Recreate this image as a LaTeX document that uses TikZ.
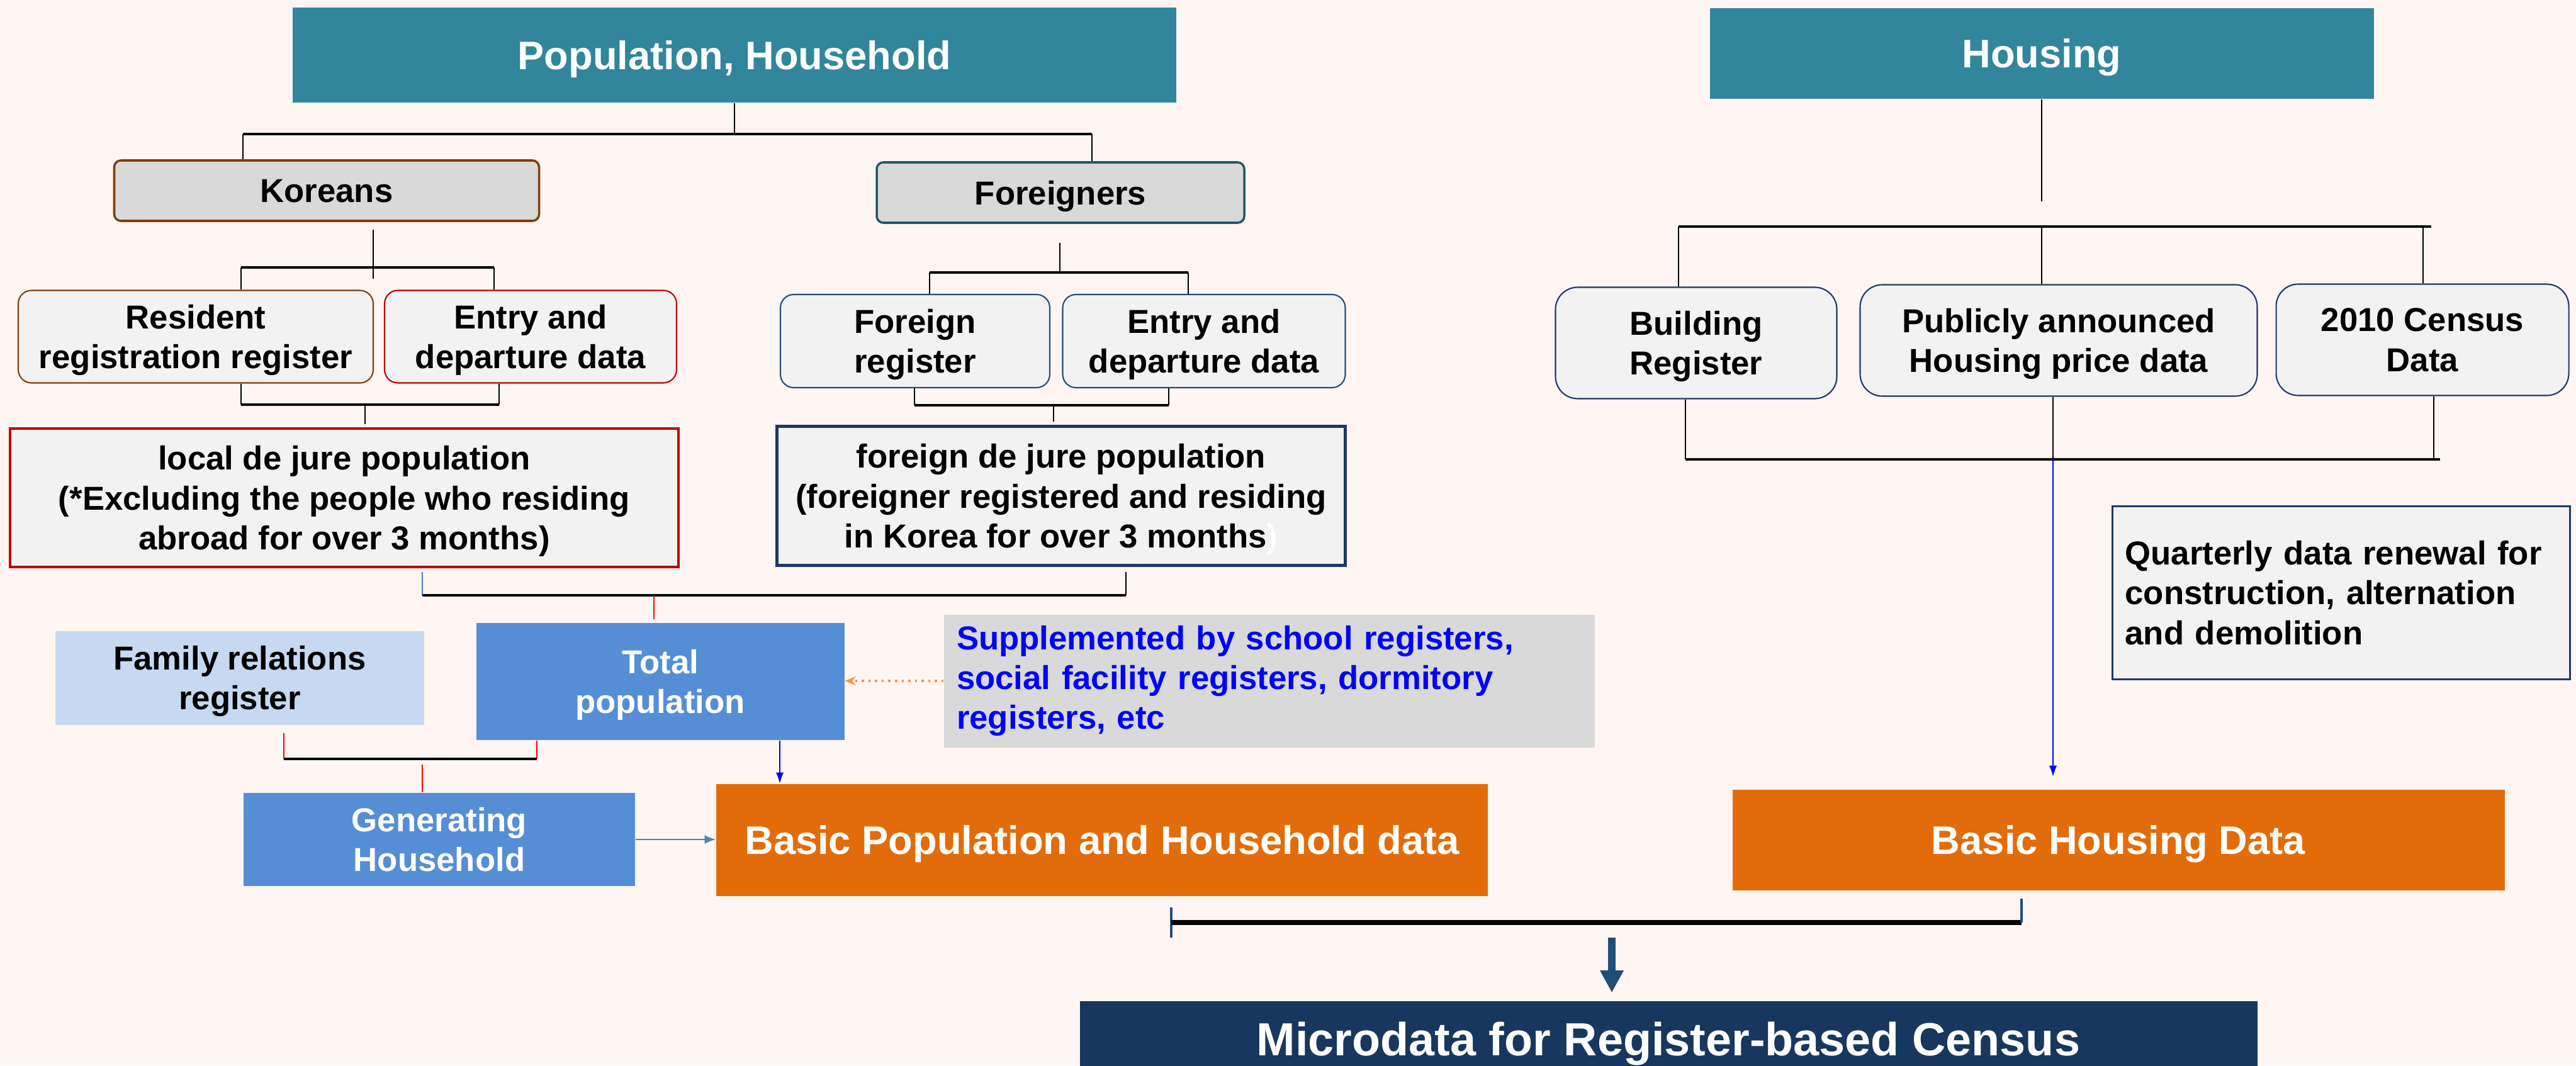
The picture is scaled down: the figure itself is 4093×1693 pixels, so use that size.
\documentclass[tikz,border=0pt]{standalone}
\usepackage{fontspec}
\setmainfont{Liberation Sans}
\usepackage{xcolor}
\usetikzlibrary{arrows.meta}
\definecolor{bgpink}{RGB}{255,245,242}
\definecolor{hdteal}{RGB}{49,134,155}
\definecolor{boxgray}{RGB}{217,217,217}
\definecolor{palegray}{RGB}{242,242,242}
\definecolor{kbrown}{RGB}{132,60,12}
\definecolor{kred}{RGB}{192,0,0}
\definecolor{fteal}{RGB}{33,89,104}
\definecolor{fblue}{RGB}{31,78,121}
\definecolor{navyline}{RGB}{31,56,100}
\definecolor{midblue}{RGB}{85,142,213}
\definecolor{paleblue}{RGB}{198,217,241}
\definecolor{dorange}{RGB}{227,108,10}
\definecolor{microblue}{RGB}{23,55,94}
\definecolor{steel}{RGB}{79,129,189}
\definecolor{lorange}{RGB}{247,150,70}
\tikzstyle{link} = [line width=0.6pt]
\tikzstyle{bar} = [line width=1.2pt]
\tikzstyle{redlink} = [red,line width=0.6pt]
\tikzstyle{bluearr} = [blue,line width=0.6pt,-{Latex[length=5pt,width=3.5pt]}]
\tikzset{>=latex,
  txt/.style={font=\bfseries\fontsize{15}{18}\selectfont, align=center, inner sep=0pt, text depth=0pt},
  note/.style={font=\bfseries\fontsize{15}{18}\selectfont, align=left, inner ysep=0pt, inner xsep=0.2cm},
  head/.style={txt, fill=hdteal, text=white, font=\bfseries\fontsize{18}{22}\selectfont},
  grp/.style={txt, fill=boxgray, rounded corners=3pt, line width=1pt},
  src/.style={txt, fill=palegray, rounded corners=6pt, line width=0.6pt},
  dejure/.style={txt, fill=palegray, line width=1.2pt},
  proc/.style={txt, fill=midblue, text=white},
  basic/.style={txt, fill=dorange, text=white, font=\bfseries\fontsize{18}{22}\selectfont}}

\begin{document}
\begin{tikzpicture}[x=0.1mm,y=-0.1mm]
\useasboundingbox (0,0) rectangle (4093,1693);
\fill[bgpink] (0,0) rectangle (4093,1693);

%headings
\node[head, minimum width=14.04cm, minimum height=1.51cm] (pop) at (1167,88) {Population, Household};
\node[head, minimum width=10.55cm, minimum height=1.44cm] (hous) at (3244,85) {Housing};

%population side
\node[grp, draw=kbrown, minimum width=6.75cm, minimum height=0.96cm] (kor) at (519,303) {Koreans};
\node[grp, draw=fteal, minimum width=5.84cm, minimum height=0.96cm] (frn) at (1685,306) {Foreigners};
\node[src, draw=kbrown, minimum width=5.64cm, minimum height=1.47cm] (resreg) at (311,535) {Resident\\registration register};
\node[src, draw=kred, minimum width=4.64cm, minimum height=1.47cm] (kentry) at (843,535) {Entry and\\departure data};
\node[src, draw=fblue, minimum width=4.28cm, minimum height=1.48cm] (freg) at (1454,542) {Foreign\\register};
\node[src, draw=fblue, minimum width=4.49cm, minimum height=1.48cm] (fentry) at (1913,542) {Entry and\\departure data};
\node[dejure, draw=kred, minimum width=10.62cm, minimum height=2.2cm] (locpop) at (547,791) {local de jure population\\(*Excluding the people who residing\\abroad for over 3 months)};
\node[dejure, draw=navyline, minimum width=9.03cm, minimum height=2.21cm] (forpop) at (1686,788) {foreign de jure population\\(foreigner registered and residing\\in Korea for over 3 months\textcolor{white}{)}};
\node[txt, fill=paleblue, minimum width=5.86cm, minimum height=1.49cm] (famreg) at (381,1077) {Family relations\\register};
\node[proc, minimum width=5.85cm, minimum height=1.86cm] (totpop) at (1049,1083) {Total\\population};
\node[note, fill=boxgray, text=blue, text width=9.94cm, minimum height=2.11cm] (suppl) at (2017,1082) {Supplemented by school registers,\\social facility registers, dormitory\\registers, etc};
\node[proc, minimum width=6.22cm, minimum height=1.48cm] (genhh) at (698,1334) {Generating\\Household};
\node[basic, minimum width=12.26cm, minimum height=1.78cm] (bpop) at (1751,1335) {Basic Population and Household data};

%housing side
\node[src, draw=navyline, rounded corners=10pt, minimum width=4.47cm, minimum height=1.77cm] (bldreg) at (2695,545) {Building\\Register};
\node[src, draw=navyline, rounded corners=10pt, minimum width=6.31cm, minimum height=1.77cm] (pubprice) at (3271,541) {Publicly announced\\Housing price data};
\node[src, draw=navyline, rounded corners=10pt, minimum width=4.65cm, minimum height=1.77cm] (cens) at (3849,540) {2010 Census\\Data};
\node[note, fill=palegray, draw=navyline, line width=1pt, text width=6.87cm, minimum height=2.75cm] (quart) at (3720,942) {Quarterly data renewal for\\construction, alternation\\and demolition};
\node[basic, minimum width=12.27cm, minimum height=1.6cm] (bhous) at (3366,1335) {Basic Housing Data};

%result
\node[txt, fill=microblue, text=white, font=\bfseries\fontsize{21}{25}\selectfont, minimum width=18.71cm, minimum height=1.2cm] (micro) at (2651,1651) {Microdata for Register-based Census};

%population tree
\coordinate (pmid) at (1167,213);
\coordinate (pl) at (386,213);
\coordinate (pr) at (1735,213);
\draw[link] (pop.south) -- (pmid);
\draw[bar] (pl) -- (pr);
\draw[link] (pl) -- (pl |- kor.north);
\draw[link] (pr) -- (pr |- frn.north);

%koreans
\coordinate (kmid) at (593,443);
\coordinate (kl) at (383,425);
\coordinate (kr) at (785,425);
\draw[link, shorten <=1.2mm] (kmid |- kor.south) -- (kmid);
\draw[bar] (kl) -- (kr);
\draw[link] (kl) -- (kl |- resreg.north);
\draw[link] (kr) -- (kr |- kentry.north);
\coordinate (kl2) at (383,643);
\coordinate (kr2) at (793,643);
\coordinate (kmid2) at (580,643);
\draw[link] (kl2 |- resreg.south) -- (kl2);
\draw[link] (kr2 |- kentry.south) -- (kr2);
\draw[bar] (kl2) -- (kr2);
\draw[link, shorten >=0.5mm] (kmid2) -- (kmid2 |- locpop.north);

%foreigners
\coordinate (fmid) at (1684,433);
\coordinate (fl) at (1477,433);
\coordinate (fr) at (1888,433);
\draw[link, shorten <=3mm] (fmid |- frn.south) -- (fmid);
\draw[bar] (fl) -- (fr);
\draw[link] (fl) -- (fl |- freg.north);
\draw[link] (fr) -- (fr |- fentry.north);
\coordinate (fl2) at (1453,644);
\coordinate (fr2) at (1857,644);
\coordinate (fmid2) at (1674,644);
\draw[link] (fl2 |- freg.south) -- (fl2);
\draw[link] (fr2 |- fentry.south) -- (fr2);
\draw[bar] (fl2) -- (fr2);
\draw[link, shorten >=0.5mm] (fmid2) -- (fmid2 |- forpop.north);

%total population
\coordinate (jl) at (671,946);
\coordinate (jr) at (1789,946);
\coordinate (jmid) at (1039,946);
\draw[link, steel, shorten <=0.6mm] (jl |- locpop.south) -- (jl);
\draw[link, shorten <=0.8mm] (jr |- forpop.south) -- (jr);
\draw[bar] (jl) -- (jr);
\draw[redlink, shorten >=0.5mm] (jmid) -- (jmid |- totpop.north);

%household
\coordinate (tl) at (451,1206);
\coordinate (tr) at (853,1206);
\coordinate (tmid) at (671,1206);
\draw[redlink, shorten <=1.3mm] (tl |- famreg.south) -- (tl);
\draw[redlink] (tr |- totpop.south) -- (tr);
\draw[bar] (tl) -- (tr);
\draw[redlink, shorten <=0.9mm] (tmid) -- (tmid |- genhh.north);

%arrows
\coordinate (tarr) at (1239,1200);
\draw[bluearr] (tarr |- totpop.south) -- (tarr |- bpop.north);
\draw[lorange, line width=1pt, dotted, -{Stealth[length=5pt,width=4pt]}] (suppl.west) -- (suppl.west -| totpop.east);
\draw[steel, line width=0.8pt, -{Latex[length=5pt,width=4pt]}] (genhh.east) -- (genhh.east -| bpop.west);

%housing tree
\coordinate (hmid) at (3244,360);
\coordinate (hl) at (2667,360);
\coordinate (hr) at (3863,360);
\coordinate (hrr) at (3850,360);
\draw[link] (hous.south) -- ([yshift=4mm]hmid);
\draw[bar] (hl) -- (hr);
\draw[link] (hl) -- (hl |- bldreg.north);
\draw[link] (hmid) -- (hmid |- pubprice.north);
\draw[link] (hrr) -- (hrr |- cens.north);
\coordinate (bl) at (2678,730);
\coordinate (bm) at (3262,730);
\coordinate (br) at (3867,730);
\coordinate (brr) at (3877,730);
\draw[link] (bl |- bldreg.south) -- (bl);
\draw[link] (bm |- pubprice.south) -- (bm);
\draw[link] (br |- cens.south) -- (br);
\draw[bar] (bl) -- (brr);
\draw[bluearr, shorten >=2mm] (bm) -- (bm |- bhous.north);

%census bracket
\coordinate (ml) at (1861,1466);
\coordinate (mr) at (3212,1466);
\coordinate (mmid) at (2561,1490);
\draw[fblue, line width=1pt] ([yshift=2.4mm]ml) -- ([yshift=-2.4mm]ml);
\draw[line width=2.2pt] (ml) -- (mr);
\draw[fblue, line width=1pt, shorten <=1.2mm] (mr |- bhous.south) -- (mr);
\draw[fblue, line width=3.5pt, shorten >=1.3mm, -{Triangle[length=10pt,width=10pt]}] (mmid) -- (mmid |- micro.north);
\end{tikzpicture}
\end{document}
